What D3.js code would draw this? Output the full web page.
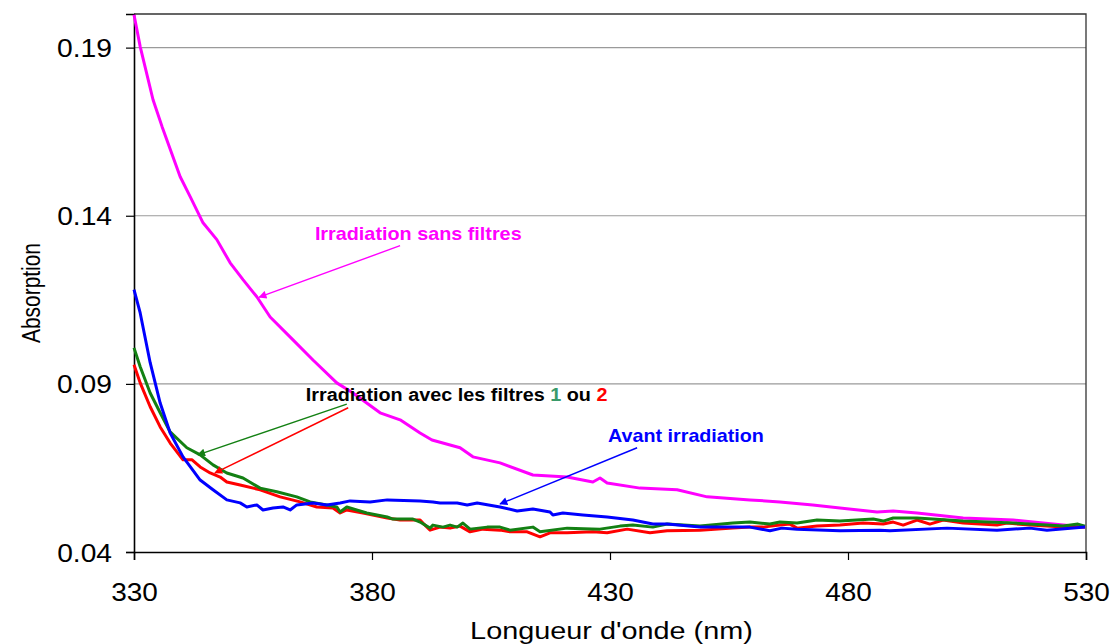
<!DOCTYPE html>
<html><head><meta charset="utf-8">
<script src="https://cdn.jsdelivr.net/npm/d3@7"></script>
<style>
body{margin:0;background:#fff}
svg{display:block;font-family:Arial,"Liberation Sans",sans-serif}
</style>
</head><body>
<svg id="c" width="1113" height="644"></svg>
<script>
const xTicks = [330, 380, 430, 480, 530];
const yTicks = [0.04, 0.09, 0.14, 0.19];
const xTitle = "Longueur d'onde (nm)";
const yTitle = "Absorption";

// [wavelength nm, absorption]
const sansFiltres = [[330,0.1998],[331.3,0.1903],[334.0,0.1745],[335.9,0.1665],[339.7,0.1516],[341.8,0.1457],[344.5,0.1379],[347.4,0.1329],[350.2,0.1260],[352.9,0.1210],[355.8,0.1159],[358.6,0.1099],[363.4,0.1031],[367.6,0.0971],[372.6,0.0903],[376.0,0.0873],[381.7,0.0814],[385.9,0.0793],[390.1,0.0754],[392.6,0.0733],[398.5,0.0710],[401.2,0.0683],[406.9,0.0665],[413.8,0.0629],[421.0,0.0623],[426.4,0.0608],[427.9,0.0620],[429.4,0.0605],[436.3,0.0590],[444.1,0.0585],[450.4,0.0564],[459.4,0.0555],[465.7,0.0549],[472.6,0.0540],[478.3,0.0531],[486.1,0.0519],[489.5,0.0522],[494.5,0.0516],[504.2,0.0501],[514.7,0.0495],[525.2,0.0480],[529.8,0.0474]];

const avantIrradiation = [[330,0.1180],[331.3,0.1111],[333.4,0.0963],[335.5,0.0843],[337.6,0.0754],[340.3,0.0683],[343.9,0.0614],[346.6,0.0585],[349.5,0.0555],[352.3,0.0546],[353.7,0.0534],[355.8,0.0540],[357.1,0.0525],[359.2,0.0531],[361.3,0.0534],[362.8,0.0525],[364.2,0.0540],[367.6,0.0546],[370.5,0.0540],[373.3,0.0546],[375.4,0.0552],[379.6,0.0549],[383.2,0.0555],[390.1,0.0552],[392.8,0.0549],[394.3,0.0546],[397.9,0.0546],[400.0,0.0540],[402.1,0.0546],[406.9,0.0534],[410.5,0.0522],[413.8,0.0528],[417.4,0.0519],[418.0,0.0510],[420.1,0.0516],[424.3,0.0510],[429.4,0.0504],[434.8,0.0495],[439.0,0.0483],[442.0,0.0483],[448.9,0.0474],[459.4,0.0474],[463.6,0.0463],[466.1,0.0471],[469.3,0.0468],[478.3,0.0463],[486.7,0.0465],[488.8,0.0463],[500.8,0.0471],[511.3,0.0465],[518.2,0.0471],[521.8,0.0465],[529.8,0.0474]];

const filtre1 = [[330,0.1007],[331.3,0.0951],[333.4,0.0873],[335.5,0.0814],[337.6,0.0757],[341.1,0.0710],[343.9,0.0689],[346.6,0.0659],[349.5,0.0635],[352.9,0.0620],[356.5,0.0590],[360.0,0.0579],[364.2,0.0564],[367.0,0.0549],[370.5,0.0540],[372.6,0.0534],[373.3,0.0519],[374.7,0.0534],[378.9,0.0516],[383.2,0.0504],[384.4,0.0498],[388.6,0.0498],[390.1,0.0489],[392.2,0.0471],[392.8,0.0480],[394.9,0.0474],[396.4,0.0480],[397.9,0.0474],[399.1,0.0486],[400.6,0.0468],[404.2,0.0474],[406.9,0.0474],[409.0,0.0465],[413.8,0.0474],[415.3,0.0460],[421.0,0.0471],[427.9,0.0468],[432.1,0.0477],[434.8,0.0480],[439.0,0.0474],[442.0,0.0483],[448.9,0.0477],[455.8,0.0486],[459.4,0.0489],[463.6,0.0483],[465.7,0.0489],[469.3,0.0486],[473.5,0.0495],[478.3,0.0492],[485.3,0.0498],[487.4,0.0492],[489.5,0.0501],[494.5,0.0501],[504.2,0.0492],[514.7,0.0486],[521.8,0.0480],[525.2,0.0477],[528.3,0.0483],[529.8,0.0477]];

const filtre2 = [[330,0.0957],[331.3,0.0903],[333.4,0.0832],[335.5,0.0772],[337.6,0.0724],[340.3,0.0674],[342.2,0.0674],[343.9,0.0653],[346.0,0.0635],[348.1,0.0623],[349.5,0.0608],[352.3,0.0599],[356.5,0.0585],[360.7,0.0564],[364.9,0.0549],[368.4,0.0534],[371.8,0.0531],[373.3,0.0516],[374.7,0.0525],[378.1,0.0516],[383.2,0.0501],[385.9,0.0495],[390.1,0.0495],[390.7,0.0486],[392.2,0.0465],[394.3,0.0474],[396.4,0.0471],[398.5,0.0477],[400.6,0.0460],[403.3,0.0468],[406.9,0.0465],[409.0,0.0460],[412.6,0.0460],[415.3,0.0445],[417.4,0.0457],[421.0,0.0457],[426.4,0.0460],[429.4,0.0457],[433.6,0.0468],[438.4,0.0457],[442.0,0.0463],[448.9,0.0465],[455.8,0.0471],[459.4,0.0474],[462.1,0.0474],[465.7,0.0480],[467.8,0.0483],[469.3,0.0471],[473.5,0.0477],[478.3,0.0480],[483.2,0.0486],[487.4,0.0483],[489.5,0.0489],[491.6,0.0480],[494.5,0.0495],[497.2,0.0483],[500.0,0.0495],[504.2,0.0486],[511.3,0.0480],[513.4,0.0486],[518.2,0.0480],[525.2,0.0474],[529.8,0.0474]];

const seriesColors = {sansFiltres:"#FF00FF", avant:"#0000FF", f1:"#138013", f2:"#FF0000"};

const svg = d3.select("#c");
const L=134, R=1086, T=14, B=552;
const x = d3.scaleLinear().domain([330,530]).range([L,R]);
const y = d3.scaleLinear().domain([0.04,0.2]).range([B,T]);

function stretch(node, w, anchor){
  const bb = node.getBBox();
  const s = w / bb.width;
  let ax = anchor==="end" ? bb.x+bb.width : anchor==="middle" ? bb.x+bb.width/2 : bb.x;
  const prev = node.getAttribute("transform") || "";
  node.setAttribute("transform", `translate(${ax},0) scale(${s},1) translate(${-ax},0) ` + prev);
}

// gridlines
svg.append("g").selectAll("line").data(yTicks.filter(d=>d>0.04)).join("line")
  .attr("x1",L).attr("x2",R).attr("y1",d=>y(d)).attr("y2",d=>y(d))
  .attr("stroke","#9a9a9a").attr("stroke-width",1.2);

// frame top/right
svg.append("path").attr("d",`M${L},${T}H${R}V${B}`).attr("fill","none").attr("stroke","#333").attr("stroke-width",1.3);

// axes
const yAxis = svg.append("g").attr("transform",`translate(${L},0)`)
  .call(d3.axisLeft(y).tickValues(yTicks).tickFormat(d3.format(".2f")).tickSize(8).tickPadding(14));
const xAxis = svg.append("g").attr("transform",`translate(0,${B})`)
  .call(d3.axisBottom(x).tickValues(xTicks).tickFormat(d3.format("d")).tickSize(8).tickPadding(14));
[yAxis,xAxis].forEach(a=>{
  a.select(".domain").attr("stroke","#000").attr("stroke-width",1.6);
  a.selectAll(".tick line").attr("stroke","#000").attr("stroke-width",1.2);
  a.selectAll("text").attr("font-family","Arial, 'Liberation Sans', sans-serif").attr("font-size",25).attr("fill","#000");
});
yAxis.selectAll("text").attr("dy","0.36em").attr("x",-22).each(function(){stretch(this,55,"end");});
xAxis.selectAll("text").attr("dy","0").attr("y",49).each(function(){stretch(this,46.7,"middle");});

// series
const line = d3.line().x(d=>x(d[0])).y(d=>y(d[1]));
[[sansFiltres,seriesColors.sansFiltres],[filtre2,seriesColors.f2],[filtre1,seriesColors.f1],[avantIrradiation,seriesColors.avant]].forEach(([d,c])=>{
  svg.append("path").datum(d).attr("d",line).attr("fill","none").attr("stroke",c)
    .attr("stroke-width",3).attr("stroke-linejoin","round");
});

// titles
const xt = svg.append("text").attr("x",611.5).attr("y",639).attr("text-anchor","middle")
  .attr("font-size",24).attr("fill","#000").text(xTitle);
stretch(xt.node(),283,"middle");
svg.append("text").attr("transform","translate(40,293) rotate(-90)").attr("text-anchor","middle")
  .attr("font-size",25).attr("textLength",100).attr("lengthAdjust","spacingAndGlyphs").attr("fill","#000").text(yTitle);

// annotations (in data units)
const defs = svg.append("defs");
function marker(id,c){
  defs.append("marker").attr("id",id).attr("viewBox","0 0 10 10").attr("refX",9).attr("refY",5)
    .attr("markerWidth",11).attr("markerHeight",8).attr("markerUnits","userSpaceOnUse").attr("orient","auto")
    .append("path").attr("d","M0,0L10,5L0,10Z").attr("fill",c);
}
const arrows = [
  {from:[385.9,0.1311],to:[356.3,0.1158],c:"#FF00FF"},
  {from:[374.7,0.0840],to:[343.4,0.0689],c:"#138013"},
  {from:[375.0,0.0829],to:[347.0,0.0635],c:"#FF0000"},
  {from:[435.7,0.0710],to:[406.9,0.0543],c:"#0000FF"}
];
arrows.forEach((a,i)=>{
  marker("m"+i,a.c);
  svg.append("line").attr("x1",x(a.from[0])).attr("y1",y(a.from[1])).attr("x2",x(a.to[0])).attr("y2",y(a.to[1]))
    .attr("stroke",a.c).attr("stroke-width",1.4).attr("marker-end",`url(#m${i})`);
});

const t1 = svg.append("text").attr("x",x(368.0)).attr("y",y(0.1329)).attr("font-size",18).attr("font-weight","bold")
  .attr("fill","#FF00FF").text("Irradiation sans filtres");
stretch(t1.node(),207,"start");
const t2 = svg.append("text").attr("x",x(366.1)).attr("y",y(0.0849)).attr("font-size",17.5).attr("font-weight","bold").attr("fill","#000");
t2.append("tspan").text("Irradiation avec les filtres ");
t2.append("tspan").attr("fill","#3a9a6a").text("1");
t2.append("tspan").text(" ou ");
t2.append("tspan").attr("fill","#FF0000").text("2");
stretch(t2.node(),302,"start");
const t3 = svg.append("text").attr("x",x(429.6)).attr("y",y(0.0727)).attr("font-size",17.5).attr("font-weight","bold")
  .attr("fill","#0000FF").text("Avant irradiation");
stretch(t3.node(),156,"start");
</script>
</body></html>
